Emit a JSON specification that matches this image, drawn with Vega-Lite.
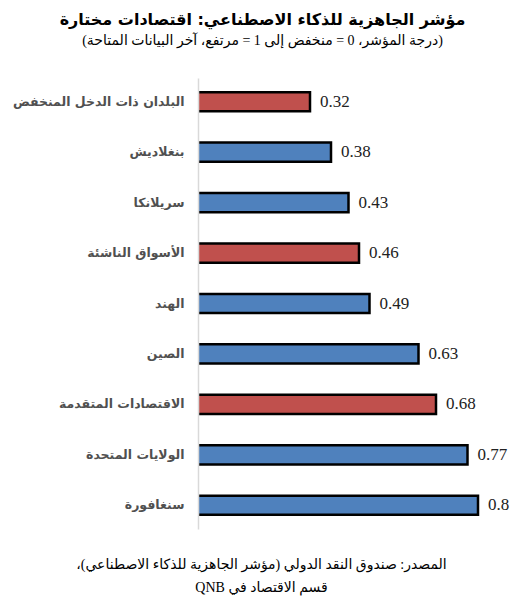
{
  "$schema": "https://vega.github.io/schema/vega-lite/v6.json",
  "width": 315,
  "height": 451,
  "autosize": {"type": "none"},
  "padding": {"left": 198, "top": 78, "right": 12, "bottom": 75},
  "background": "white",
  "title": {
    "text": "\u202Bمؤشر الجاهزية للذكاء الاصطناعي: اقتصادات مختارة\u202C",
    "subtitle": "\u202B(درجة المؤشر، 0 = منخفض إلى 1 = مرتفع، آخر البيانات المتاحة)\u202C",
    "anchor": "middle",
    "frame": "group",
    "dx": -93,
    "offset": 30,
    "font": "DejaVu Sans",
    "fontSize": 16,
    "fontWeight": "bold",
    "color": "#000000",
    "subtitleFont": "Liberation Serif, DejaVu Sans",
    "subtitleFontSize": 14,
    "subtitleColor": "#000000",
    "subtitlePadding": 6
  },
  "data": {
    "values": [
      {"name": "البلدان ذات الدخل المنخفض", "value": 0.32, "kind": "group"},
      {"name": "بنغلاديش", "value": 0.38, "kind": "country"},
      {"name": "سريلانكا", "value": 0.43, "kind": "country"},
      {"name": "الأسواق الناشئة", "value": 0.46, "kind": "group"},
      {"name": "الهند", "value": 0.49, "kind": "country"},
      {"name": "الصين", "value": 0.63, "kind": "country"},
      {"name": "الاقتصادات المتقدمة", "value": 0.68, "kind": "group"},
      {"name": "الولايات المتحدة", "value": 0.77, "kind": "country"},
      {"name": "سنغافورة", "value": 0.8, "kind": "country"}
    ]
  },
  "encoding": {
    "y": {
      "field": "name",
      "type": "nominal",
      "sort": null,
      "scale": {"paddingInner": 0.62, "paddingOuter": 0.28},
      "axis": {
        "title": null,
        "ticks": false,
        "grid": false,
        "domainColor": "#D9D9D9",
        "domainWidth": 1.5,
        "labelFont": "DejaVu Sans",
        "labelFontWeight": "bold",
        "labelFontSize": 12.5,
        "labelColor": "#505050",
        "labelPadding": 14,
        "labelLimit": 0,
        "zindex": 1
      }
    },
    "x": {
      "field": "value",
      "type": "quantitative",
      "scale": {"domain": [0, 0.9], "nice": false, "zero": true},
      "axis": {
        "labels": false,
        "ticks": false,
        "domain": false,
        "grid": false,
        "title": [
          "\u202Bالمصدر: صندوق النقد الدولي (مؤشر الجاهزية للذكاء الاصطناعي)،\u202C",
          "\u202Bقسم الاقتصاد في QNB\u202C"
        ],
        "titleFont": "Liberation Serif, DejaVu Sans",
        "titleFontSize": 14,
        "titleFontWeight": "normal",
        "titleColor": "#000000",
        "titleLineHeight": 23,
        "titleX": 63,
        "titleY": 28,
        "titleAlign": "center",
        "titleBaseline": "top"
      }
    }
  },
  "layer": [
    {
      "mark": {"type": "bar", "stroke": "#000000", "strokeWidth": 2.5, "clip": true},
      "encoding": {
        "x2": {"datum": -0.02},
        "color": {
          "field": "kind",
          "type": "nominal",
          "scale": {"domain": ["group", "country"], "range": ["#C0504D", "#4F81BD"]},
          "legend": null
        }
      }
    },
    {
      "mark": {"type": "text", "align": "left", "baseline": "middle", "dx": 10, "font": "Liberation Serif, Times New Roman, serif", "fontSize": 17, "color": "#222222"},
      "encoding": {
        "text": {"field": "value", "type": "quantitative", "format": "~g"}
      }
    }
  ],
  "config": {"view": {"stroke": null}}
}
